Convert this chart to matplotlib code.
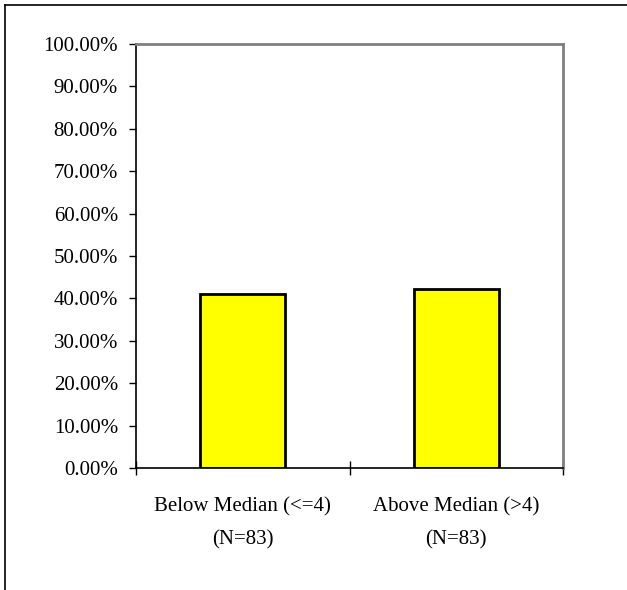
import matplotlib.pyplot as plt
from matplotlib.lines import Line2D
from matplotlib.ticker import PercentFormatter

# 数据
categories = ["Below Median (<=4)\n(N=83)", "Above Median (>4)\n(N=83)"]
values = [34 / 83 * 100, 35 / 83 * 100]
yticks = list(range(0, 101, 10))

plt.rcParams['font.family'] = ['Liberation Serif', 'DejaVu Serif']

fig = plt.figure(figsize=(6.27, 5.9), dpi=100)
ax = fig.add_axes([136 / 627, 1 - 468 / 590, (563 - 136) / 627, (468 - 44) / 590])

x = [0.5, 1.5]
ax.bar(x, values, width=0.4, color='#ffff00', edgecolor='black', linewidth=2)

ax.set_xlim(0, 2)
ax.set_ylim(0, 100)
ax.set_yticks(yticks)
ax.yaxis.set_major_formatter(PercentFormatter(decimals=2))
ax.set_xticks([0, 1, 2])
ax.set_xticklabels([])
ax.set_xticks(x, minor=True)
ax.set_xticklabels(categories, minor=True, fontsize=15, linespacing=2.0)
ax.tick_params(axis='x', which='minor', length=0, pad=21)
ax.tick_params(axis='x', which='major', direction='inout', length=10, width=1)
ax.tick_params(axis='y', direction='out', length=5, width=1, labelsize=15, pad=8)

ax.spines['left'].set_color('black')
ax.spines['bottom'].set_color('black')
for s in ['top', 'right']:
    ax.spines[s].set_color('#808080')
    ax.spines[s].set_linewidth(2)
ax.spines['left'].set_linewidth(1.2)
ax.spines['bottom'].set_linewidth(1.2)

# 外框
fig.add_artist(Line2D([5 / 627, 5 / 627], [0, 1 - 5 / 590], color='black', lw=1.2, transform=fig.transFigure))
fig.add_artist(Line2D([5 / 627, 1], [1 - 5 / 590, 1 - 5 / 590], color='black', lw=1.2, transform=fig.transFigure))

fig.savefig('out.png', dpi=100)
